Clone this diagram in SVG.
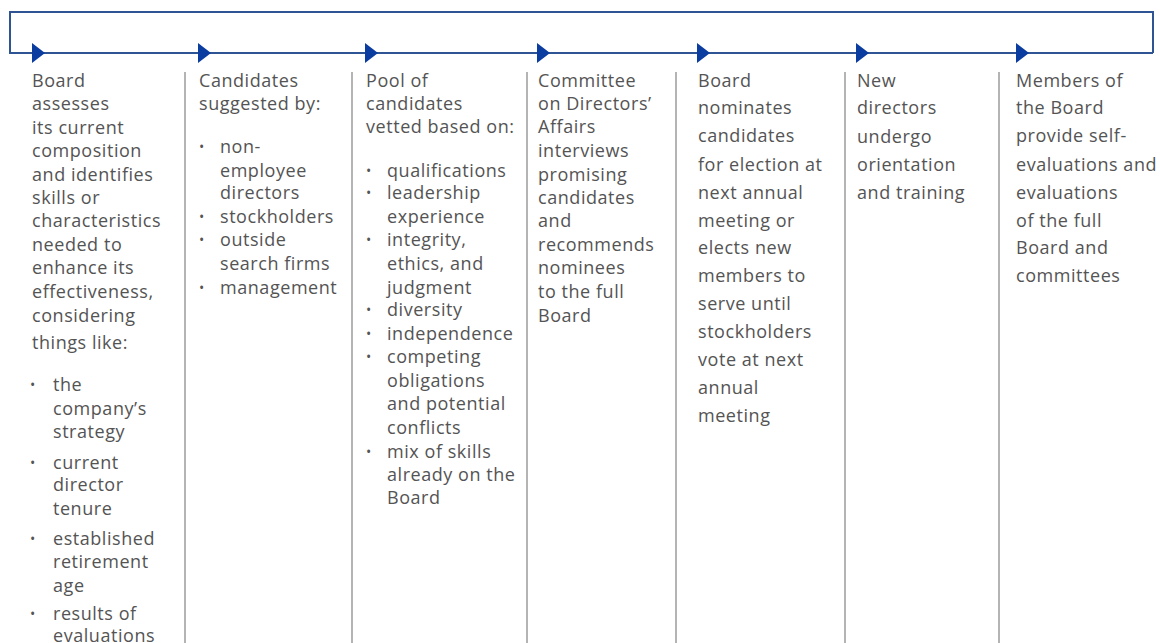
<svg xmlns="http://www.w3.org/2000/svg" width="1160" height="643" viewBox="0 0 1160 643">
<defs>
<marker id="tri" markerUnits="userSpaceOnUse" markerWidth="14" markerHeight="22" viewBox="0 0 14 22" refX="13" refY="11" orient="auto">
<path d="M0,1 L13,11 L0,21 Z" fill="#0b3c9f"/>
</marker>
<style>
text{font-family:"Open Sans","Liberation Sans",sans-serif;font-size:18px;fill:#545454;letter-spacing:0.55px}
.b{font-size:14px;letter-spacing:0}
.loop{fill:none;stroke:#2e5494;stroke-width:2}
.div{stroke:#b4b4b4;stroke-width:2}
</style>
</defs>
<rect width="1160" height="643" fill="#fff"/>
<g id="connectors">
<path class="loop" d="M1153,53 V12 H10 V53 H45" marker-end="url(#tri)"/>
<path class="loop" d="M45,53 H211" marker-end="url(#tri)"/>
<path class="loop" d="M211,53 H378" marker-end="url(#tri)"/>
<path class="loop" d="M378,53 H550" marker-end="url(#tri)"/>
<path class="loop" d="M550,53 H710" marker-end="url(#tri)"/>
<path class="loop" d="M710,53 H869" marker-end="url(#tri)"/>
<path class="loop" d="M869,53 H1029" marker-end="url(#tri)"/>
<path class="loop" d="M1029,53 H1153"/>
</g>
<g id="dividers">
<line class="div" x1="185" y1="72" x2="185" y2="643"/>
<line class="div" x1="352" y1="72" x2="352" y2="643"/>
<line class="div" x1="527" y1="72" x2="527" y2="643"/>
<line class="div" x1="676" y1="72" x2="676" y2="643"/>
<line class="div" x1="845" y1="72" x2="845" y2="643"/>
<line class="div" x1="999" y1="72" x2="999" y2="643"/>
</g>
<g id="step1">
<text x="32" y="87">Board</text>
<text x="32" y="110">assesses</text>
<text x="32" y="134">its current</text>
<text x="32" y="157">composition</text>
<text x="32" y="181">and identifies</text>
<text x="32" y="204">skills or</text>
<text x="32" y="227">characteristics</text>
<text x="32" y="251">needed to</text>
<text x="32" y="274">enhance its</text>
<text x="32" y="298">effectiveness,</text>
<text x="32" y="322">considering</text>
<text x="32" y="349">things like:</text>
<text class="b" x="30" y="390">•</text>
<text x="53" y="391">the</text>
<text x="53" y="415">company’s</text>
<text x="53" y="438">strategy</text>
<text class="b" x="30" y="468">•</text>
<text x="53" y="469">current</text>
<text x="53" y="491">director</text>
<text x="53" y="515">tenure</text>
<text class="b" x="30" y="544">•</text>
<text x="53" y="545">established</text>
<text x="53" y="568">retirement</text>
<text x="53" y="592">age</text>
<text class="b" x="30" y="619">•</text>
<text x="53" y="620">results of</text>
<text x="53" y="642">evaluations</text>
</g>
<g id="step2">
<text x="199" y="87">Candidates</text>
<text x="199" y="110">suggested by:</text>
<text class="b" x="199" y="152">•</text>
<text x="220" y="153">non-</text>
<text x="220" y="177">employee</text>
<text x="220" y="199">directors</text>
<text class="b" x="199" y="222">•</text>
<text x="220" y="223">stockholders</text>
<text class="b" x="199" y="245">•</text>
<text x="220" y="246">outside</text>
<text x="220" y="270">search firms</text>
<text class="b" x="199" y="293">•</text>
<text x="220" y="294">management</text>
</g>
<g id="step3">
<text x="366" y="87">Pool of</text>
<text x="366" y="110">candidates</text>
<text x="366" y="133">vetted based on:</text>
<text class="b" x="366" y="176">•</text>
<text x="387" y="177">qualifications</text>
<text class="b" x="366" y="198">•</text>
<text x="387" y="199">leadership</text>
<text x="387" y="223">experience</text>
<text class="b" x="366" y="245">•</text>
<text x="387" y="246">integrity,</text>
<text x="387" y="270">ethics, and</text>
<text x="387" y="294">judgment</text>
<text class="b" x="366" y="315">•</text>
<text x="387" y="316">diversity</text>
<text class="b" x="366" y="339">•</text>
<text x="387" y="340">independence</text>
<text class="b" x="366" y="362">•</text>
<text x="387" y="363">competing</text>
<text x="387" y="387">obligations</text>
<text x="387" y="410">and potential</text>
<text x="387" y="434">conflicts</text>
<text class="b" x="366" y="457">•</text>
<text x="387" y="458">mix of skills</text>
<text x="387" y="481">already on the</text>
<text x="387" y="504">Board</text>
</g>
<g id="step4">
<text x="538" y="87">Committee</text>
<text x="538" y="110">on Directors’</text>
<text x="538" y="133">Affairs</text>
<text x="538" y="157">interviews</text>
<text x="538" y="181">promising</text>
<text x="538" y="204">candidates</text>
<text x="538" y="227">and</text>
<text x="538" y="251">recommends</text>
<text x="538" y="274">nominees</text>
<text x="538" y="298">to the full</text>
<text x="538" y="322">Board</text>
</g>
<g id="step5">
<text x="698" y="87">Board</text>
<text x="698" y="114">nominates</text>
<text x="698" y="142">candidates</text>
<text x="698" y="171">for election at</text>
<text x="698" y="199">next annual</text>
<text x="698" y="227">meeting or</text>
<text x="698" y="254">elects new</text>
<text x="698" y="282">members to</text>
<text x="698" y="310">serve until</text>
<text x="698" y="338">stockholders</text>
<text x="698" y="366">vote at next</text>
<text x="698" y="394">annual</text>
<text x="698" y="422">meeting</text>
</g>
<g id="step6">
<text x="857" y="87">New</text>
<text x="857" y="114">directors</text>
<text x="857" y="143">undergo</text>
<text x="857" y="171">orientation</text>
<text x="857" y="199">and training</text>
</g>
<g id="step7">
<text x="1016" y="87">Members of</text>
<text x="1016" y="114">the Board</text>
<text x="1016" y="142">provide self-</text>
<text x="1016" y="171">evaluations and</text>
<text x="1016" y="199">evaluations</text>
<text x="1016" y="227">of the full</text>
<text x="1016" y="254">Board and</text>
<text x="1016" y="282">committees</text>
</g>
</svg>
